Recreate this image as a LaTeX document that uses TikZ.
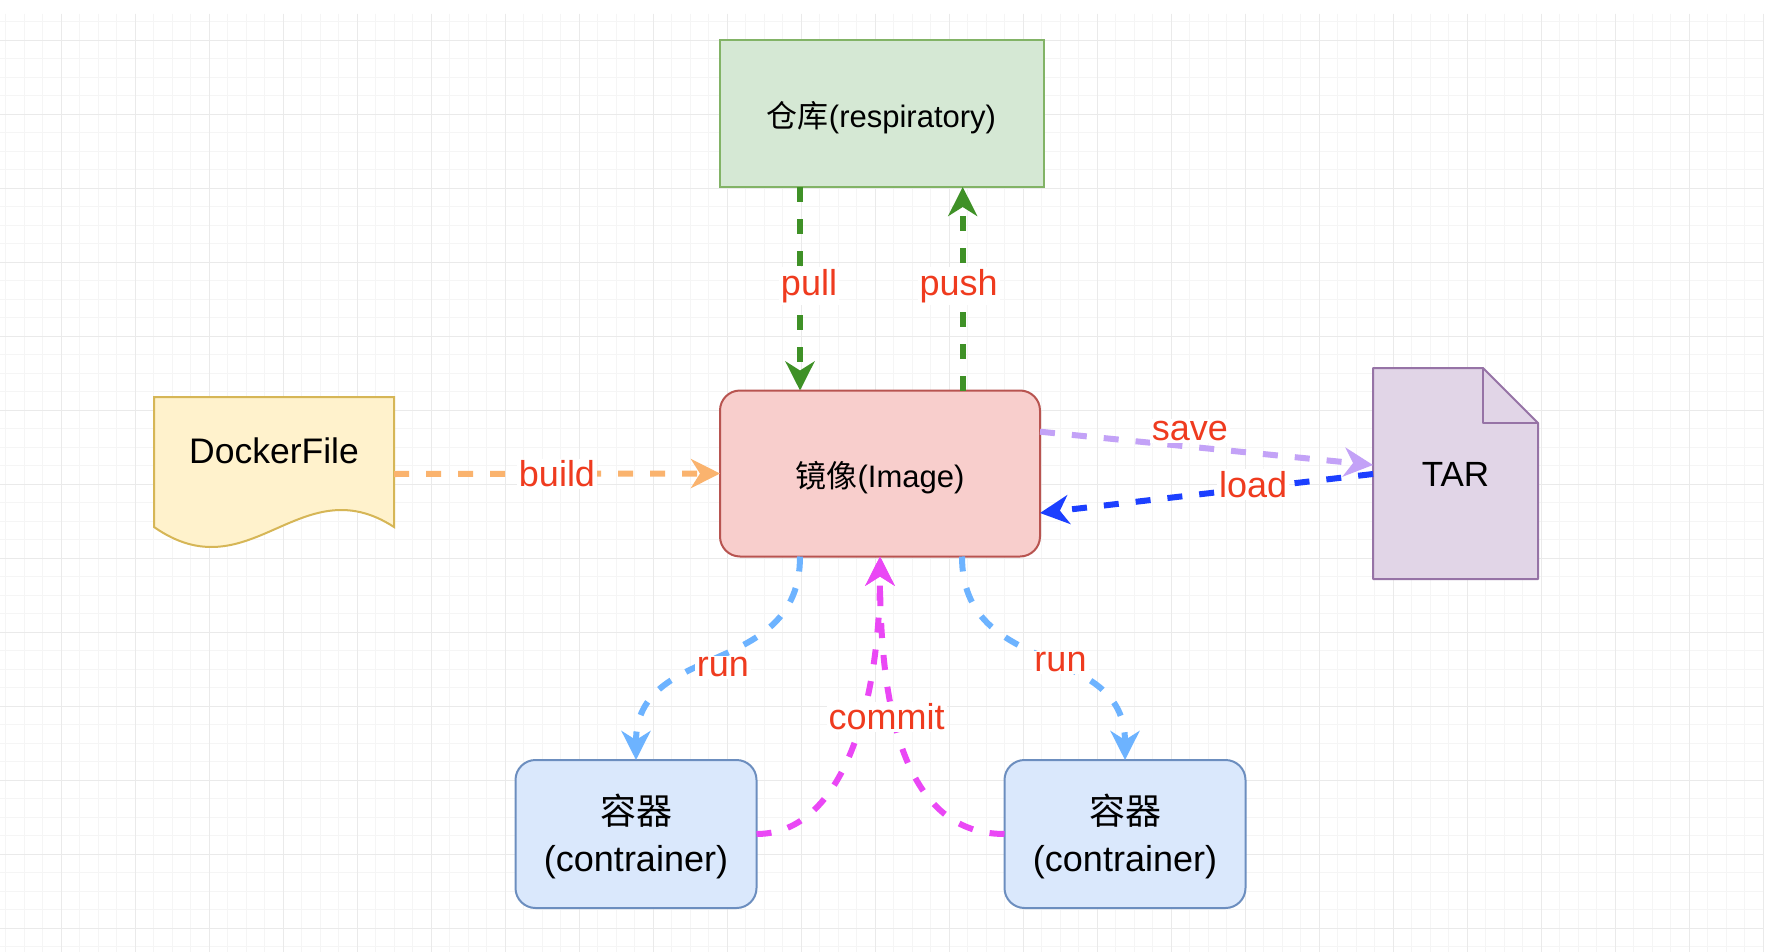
\documentclass[tikz,border=0pt]{standalone}
\usepackage{fontspec}
\setmainfont{Liberation Sans}
\newfontfamily\cjk{Noto Sans CJK SC}
\usetikzlibrary{arrows.meta,calc}
\definecolor{gminor}{HTML}{F5F5F5}
\definecolor{gmajor}{HTML}{EAEAEA}
\definecolor{cgreen}{HTML}{3F9127}
\definecolor{corange}{HTML}{FAB36E}
\definecolor{cpurple}{HTML}{C3A2F7}
\definecolor{cblue}{HTML}{1C3FFF}
\definecolor{crun}{HTML}{6DB3FF}
\definecolor{cmag}{HTML}{EA47F5}
\definecolor{lblred}{HTML}{EF3B1F}
\definecolor{repofill}{HTML}{D5E8D4}
\definecolor{repodraw}{HTML}{82B366}
\definecolor{imgfill}{HTML}{F8CECC}
\definecolor{imgdraw}{HTML}{B85450}
\definecolor{dffill}{HTML}{FFF2CC}
\definecolor{dfdraw}{HTML}{D6B656}
\definecolor{tarfill}{HTML}{E1D5E7}
\definecolor{tardraw}{HTML}{9673A6}
\definecolor{contfill}{HTML}{DAE8FC}
\definecolor{contdraw}{HTML}{6C8EBF}
\begin{document}
\begin{tikzpicture}[x=1pt,y=-1pt,
  minorline/.style={draw=gminor,line width=1pt},
  majorline/.style={draw=gmajor,line width=1.2pt},
  repobox/.style={draw=repodraw,fill=repofill,line width=2pt,minimum width=324pt,minimum height=146.5pt,inner sep=0pt,outer sep=0pt},
  imgbox/.style={draw=imgdraw,fill=imgfill,line width=2pt,rounded corners=20pt,minimum width=320pt,minimum height=166pt,inner sep=0pt,outer sep=0pt},
  contbox/.style={draw=contdraw,fill=contfill,line width=2pt,rounded corners=20pt,minimum width=241pt,minimum height=148pt,inner sep=0pt,outer sep=0pt},
  boxtext/.style={inner sep=0pt,font=\fontsize{31}{36}\selectfont},
  conttext/.style={inner sep=0pt,align=center,font=\fontsize{36}{46.6}\selectfont},
  ghostbox/.style={inner sep=0pt,outer sep=0pt},
  dfshape/.style={draw=dfdraw,fill=dffill,line width=2pt},
  tarshape/.style={draw=tardraw,fill=tarfill,line width=2pt,line join=round},
  conn/.style={line width=6pt,dash pattern=on 15pt off 17pt,-{Stealth[length=29pt,width=29pt,inset=9pt]}},
  lbl/.style={fill=white,text=lblred,inner sep=2pt,font=\fontsize{36}{40}\selectfont}
]
\useasboundingbox (0,0) rectangle (1766,952);
\fill[white] (0,0) rectangle (1766,952);
% grid
\foreach \i in {0,...,95} {
  \draw[minorline] ({5.8+18.5*\i},14) -- ({5.8+18.5*\i},952);
}
\foreach \j in {0,...,50} {
  \draw[minorline] (0,{21.8+18.5*\j}) -- (1764,{21.8+18.5*\j});
}
\foreach \i in {0,...,23} {
  \draw[majorline] ({61.3+74*\i},14) -- ({61.3+74*\i},952);
}
\foreach \j in {0,...,12} {
  \draw[majorline] (0,{40.3+74*\j}) -- (1764,{40.3+74*\j});
}
% shapes
\node[repobox] (repo) at (881.5,113.75) {};
\node[boxtext] (repotext) at ($(repo.center)+(0,3.5)$) {{\cjk 仓库}(respiratory)};
\node[imgbox] (image) at (880,473.5) {};
\node[boxtext] (imagetext) at ($(image.center)+(0,4.5)$) {{\cjk 镜像}(Image)};
\draw[dfshape] (154,397) -- (394,397) -- (394,527) .. controls (300,466) and (250,594) .. (154,527) -- cycle;
\node[ghostbox,minimum width=240pt,minimum height=151pt] (df) at (274,474) {};
\node[font=\fontsize{35.5}{40}\selectfont] (dftext) at ($(df.center)+(0,-23)$) {DockerFile};
\draw[tarshape] (1373,368) -- (1483,368) -- (1538,423) -- (1538,579) -- (1373,579) -- cycle;
\draw[tarshape,fill=none] (1483,368) -- (1483,423) -- (1538,423);
\node[ghostbox,minimum width=165pt,minimum height=211pt,font=\fontsize{35}{40}\selectfont] (tar) at (1455.5,474.5) {TAR};
\node[contbox] (cl) at (636,834) {};
\node[conttext] (cltext) at ($(cl.center)+(0,2.5)$) {{\cjk 容器}\\(contrainer)};
\node[contbox] (cr) at (1125,834) {};
\node[conttext] (crtext) at ($(cr.center)+(0,2.5)$) {{\cjk 容器}\\(contrainer)};
% connectors
\draw[conn,cgreen] ($(repo.south)+(-81.5,0)$) -- node[lbl,xshift=9pt,yshift=3pt]{pull} ($(image.north)+(-80,0)$);
\draw[conn,cgreen] ($(image.north)+(82.7,0)$) -- node[lbl,xshift=-4pt,yshift=3pt]{push} ($(repo.south)+(81.2,0)$);
\draw[conn,corange] (df.east) -- node[lbl]{build} (image.west);
\draw[conn,cpurple] ($(image.east)+(0,-41.8)$) -- node[lbl,pos=0.45,yshift=16pt]{save} ($(tar.west)+(0,-9.5)$);
\draw[conn,cblue] ($(tar.west)+(0,-0.5)$) -- node[lbl,pos=0.36,yshift=3.4pt]{load} ($(image.east)+(0,39.5)$);
\draw[conn,crun] ($(image.south)+(-80,0)$) .. controls +(0,123) and +(0,-120) .. node[lbl,pos=0.5,xshift=5pt,yshift=-8pt]{run} (cl.north);
\draw[conn,crun] ($(image.south)+(82,0)$) .. controls +(0,123) and +(0,-120) .. node[lbl,pos=0.5,xshift=17pt,yshift=-3pt]{run} (cr.north);
\draw[conn,cmag] (cl.east) .. controls +(88,0) and +(0,143.5) .. (image.south);
\draw[conn,cmag] (cr.west) .. controls +(-104,0) and +(0,143.5) .. node[lbl,pos=0.65,xshift=-3.6pt,yshift=-18.4pt]{commit} (image.south);
\end{tikzpicture}
\end{document}
